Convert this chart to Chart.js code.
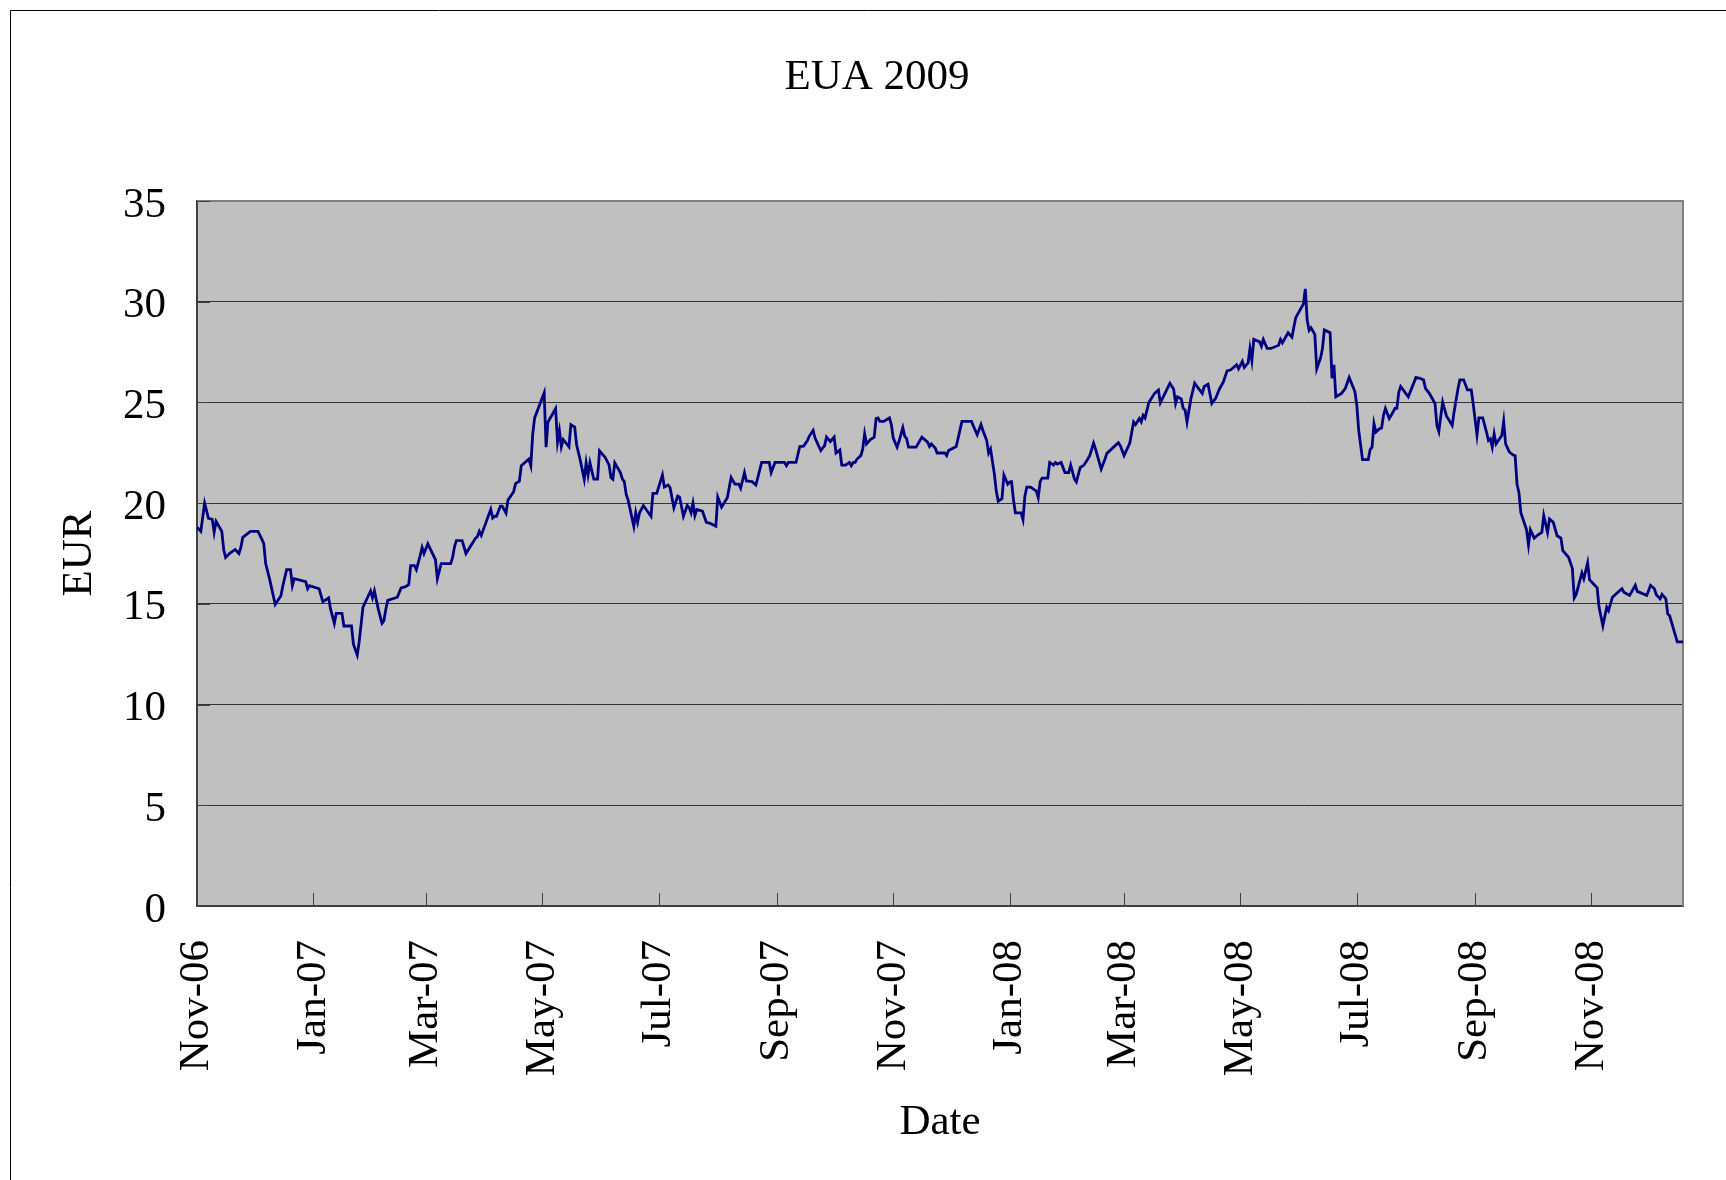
<!DOCTYPE html>
<html>
<head>
<meta charset="utf-8">
<title>EUA 2009</title>
<script src="https://cdn.jsdelivr.net/npm/chart.js@4.4.1/dist/chart.umd.min.js"></script>
<style>
  html, body { margin: 0; padding: 0; background: #fff; }
  canvas { display: block; }
</style>
</head>
<body>
<canvas id="euaChart" width="1726" height="1180"></canvas>
<script>
// EUA Dec-2009 price. Days are counted from 1 Nov 2006.
const CHART_TITLE = 'EUA 2009';

const days2006 = [0, 2, 4, 6, 8, 9, 10, 13, 14, 15, 17, 20, 22, 23, 24, 28, 32, 35, 36, 38,
    41, 44, 45, 47, 49, 50, 51, 57, 58, 59];
const eur2006 = [18.8, 18.6, 20.0, 19.25, 19.2, 18.55, 19.1, 18.6, 17.7, 17.3, 17.5, 17.7, 17.5, 17.8, 18.3, 18.6, 18.6, 18.0, 17.0, 16.25,
    14.97, 15.4, 15.9, 16.7, 16.7, 15.9, 16.25, 16.1, 15.75, 15.9];

const days2007 = [64, 66, 69, 70, 72, 73, 76, 77, 81, 82,
    84, 85, 87, 91, 92, 93, 95, 97, 98, 99,
    100, 105, 107, 109, 111, 112, 114, 115, 117, 118,
    119, 121, 125, 126, 128, 133, 134, 135, 136, 139,
    141, 146, 147, 148, 149, 154, 155, 156, 157, 159,
    160, 162, 163, 166, 167, 169, 170, 174, 175, 176,
    177, 182, 183, 184, 188, 189, 190, 191, 192, 195,
    196, 198, 199, 201, 203, 204, 205, 206, 208, 210,
    211, 214, 216, 217, 218, 219, 222, 223, 224, 225,
    226, 229, 230, 231, 232, 234, 238, 239, 241, 244,
    245, 247, 248, 250, 252, 253, 255, 257, 258, 259,
    260, 261, 262, 265, 267, 269, 272, 273, 275, 278,
    280, 282, 284, 285, 287, 288, 291, 293, 296, 300,
    301, 303, 308, 309, 310, 314, 316, 318, 320, 321,
    323, 324, 327, 329, 330, 332, 334, 335, 337, 338,
    340, 342, 343, 344, 345, 346, 348, 349, 350, 351,
    353, 355, 356, 357, 358, 360, 363, 364, 365, 367,
    368, 370, 371, 372, 373, 377, 380, 383, 384, 385,
    387, 388, 392, 393, 394, 398, 401, 406, 407, 409,
    411, 412, 414, 415, 416, 418, 419, 420, 422, 423,
    425];
const eur2007 = [15.75, 15.1, 15.3, 14.75, 14.03, 14.53, 14.53, 13.9, 13.9, 13.0,
    12.46, 13.1, 14.83, 15.64, 15.3, 15.64, 14.75, 14.03, 14.16, 14.75,
    15.17, 15.33, 15.79, 15.84, 15.95, 16.9, 16.9, 16.7, 17.4, 17.8,
    17.5, 17.98, 17.2, 16.25, 17.0, 17.0, 17.3, 17.84, 18.14, 18.14,
    17.5, 18.26, 18.34, 18.6, 18.4, 19.7, 19.26, 19.35, 19.35, 19.85,
    19.85, 19.5, 20.15, 20.57, 20.97, 21.09, 21.86, 22.19, 21.86, 23.44,
    24.23, 25.48, 22.78, 24.03, 24.7, 23.03, 23.6, 22.8, 23.16, 22.8,
    23.9, 23.78, 22.9, 22.1, 21.19, 22.0, 21.4, 22.0, 21.19, 21.19,
    22.6, 22.27, 21.9, 21.27, 21.19, 22.0, 21.5, 21.19, 21.07, 20.43,
    20.15, 18.85, 19.52, 19.05, 19.52, 19.88, 19.35, 20.48, 20.48, 21.4,
    20.8, 20.9, 20.77, 19.77, 20.35, 20.3, 19.35, 19.88, 19.77, 19.52,
    20.0, 19.38, 19.68, 19.6, 19.05, 19.0, 18.85, 20.3, 19.8, 20.27,
    21.27, 20.94, 20.94, 20.74, 21.52, 21.1, 21.07, 20.9, 22.02, 22.02,
    21.52, 22.02, 22.02, 21.86, 22.02, 22.02, 22.81, 22.83, 23.11, 23.33,
    23.61, 23.23, 22.61, 22.86, 23.28, 23.06, 23.28, 22.49, 22.64, 21.89,
    21.89, 22.02, 21.86, 22.02, 22.02, 22.19, 22.36, 22.69, 23.44, 22.94,
    23.16, 23.28, 24.2, 24.23, 24.06, 24.06, 24.23, 23.9, 23.23, 22.78,
    23.06, 23.75, 23.33, 23.2, 22.78, 22.78, 23.28, 23.03, 22.81, 22.94,
    22.74, 22.49, 22.49, 22.36, 22.61, 22.81, 24.06, 24.06, 23.83, 23.39,
    23.9, 23.61, 23.11, 22.49, 22.69, 21.44, 20.6, 20.1, 20.22, 21.39,
    20.94];

const days2008 = [426, 427, 428, 429, 432, 433, 434, 435, 437, 440,
    441, 442, 443, 446, 447, 449, 450, 451, 453, 455,
    457, 458, 460, 461, 463, 465, 467, 468, 470, 471,
    474, 476, 477, 483, 484, 486, 489, 491, 492, 494,
    495, 496, 497, 499, 502, 504, 505, 510, 512, 513,
    514, 516, 517, 518, 519, 521, 523, 525, 527, 528,
    530, 532, 534, 536, 538, 540, 542, 545, 546, 548,
    549, 551, 552, 553, 554, 557, 558, 559, 561, 563,
    567, 568, 569, 572, 574, 575, 576, 579, 580, 581,
    582, 583, 584, 586, 587, 589, 590, 591, 594, 595,
    596, 597, 600, 602, 604, 607, 608, 609, 611, 614,
    615, 616, 617, 618, 620, 621, 622, 623, 625, 626,
    628, 629, 630, 631, 635, 639, 641, 643, 644, 646,
    649, 650, 651, 653, 655, 658, 659, 661, 662, 664,
    666, 668, 669, 671, 672, 674, 676, 677, 678, 679,
    680, 681, 684, 685, 686, 688, 690, 691, 692, 693,
    694, 697, 698, 699, 701, 703, 705, 706, 708, 709,
    711, 713, 715, 716, 719, 721, 722, 723, 726, 727,
    729, 730, 732, 734, 735, 737, 739, 740, 742, 744,
    747, 748, 751, 754, 755, 760, 762, 764, 765, 767,
    768, 770, 771, 772, 776, 779];
const eur2008 = [21.05, 21.07, 20.18, 19.52, 19.52, 19.18, 20.35, 20.8, 20.8, 20.6,
    20.27, 21.07, 21.24, 21.24, 22.02, 21.89, 22.02, 21.94, 22.02, 21.52,
    21.52, 21.89, 21.19, 21.05, 21.77, 21.89, 22.19, 22.36, 22.98, 22.69,
    21.69, 22.19, 22.47, 23.0, 22.86, 22.36, 22.98, 24.03, 23.9, 24.2,
    24.03, 24.36, 24.23, 25.0, 25.45, 25.62, 24.98, 25.95, 25.65, 24.95,
    25.28, 25.17, 24.7, 24.62, 24.03, 25.17, 25.95, 25.7, 25.45, 25.79,
    25.9, 24.95, 25.2, 25.67, 26.0, 26.57, 26.62, 26.87, 26.67, 27.04,
    26.74, 26.96, 27.68, 27.07, 28.13, 28.01, 27.79, 28.13, 27.68, 27.68,
    27.84, 28.13, 27.96, 28.46, 28.24, 28.75, 29.21, 29.72, 29.88, 30.64,
    29.08, 28.58, 28.71, 28.38, 26.67, 27.21, 27.68, 28.6, 28.46, 26.2,
    26.87, 25.28, 25.45, 25.7, 26.24, 25.54, 24.87, 23.61, 22.16, 22.16,
    22.66, 22.78, 23.95, 23.53, 23.7, 23.73, 24.36, 24.7, 24.2, 24.36,
    24.7, 24.7, 25.5, 25.79, 25.28, 26.24, 26.2, 26.12, 25.7, 25.45,
    24.95, 23.86, 23.56, 25.02, 24.33, 23.86, 24.53, 25.65, 26.12, 26.12,
    25.62, 25.62, 24.95, 23.39, 24.23, 24.23, 23.53, 23.11, 23.19, 22.78,
    23.44, 22.94, 23.36, 24.06, 22.94, 22.53, 22.39, 22.36, 20.94, 20.52,
    19.52, 18.68, 17.93, 18.68, 18.26, 18.43, 18.55, 19.38, 18.55, 19.21,
    19.05, 18.38, 18.26, 17.64, 17.31, 16.76, 15.3, 15.47, 16.54, 16.25,
    17.04, 16.2, 16.0, 15.8, 14.83, 13.91, 14.83, 14.66, 15.33, 15.5,
    15.75, 15.58, 15.42, 15.92, 15.62, 15.42, 15.92, 15.75, 15.45, 15.25,
    15.47, 15.25, 14.5, 14.41, 13.11, 13.11];

// month ticks every two months (day offsets from 1 Nov 2006)
const monthTickDays = [0, 61, 120, 181, 242, 304, 365, 426, 486, 547, 608, 670, 731];
const monthTickLabels = ['Nov-06', 'Jan-07', 'Mar-07', 'May-07', 'Jul-07', 'Sep-07', 'Nov-07',
    'Jan-08', 'Mar-08', 'May-08', 'Jul-08', 'Sep-08', 'Nov-08'];
const lastDay = 779;

const SERIF = '"Liberation Serif", "Times New Roman", serif';

const allDays = days2006.concat(days2007, days2008);
const allEur = eur2006.concat(eur2007, eur2008);
const points = allDays.map((d, i) => ({ x: d, y: allEur[i] }));

// white page, outer chart frame (cut off at right and bottom) and grey plot area
const excelBackground = {
    id: 'excelBackground',
    beforeDraw(chart) {
        const { ctx, chartArea: a, width, height } = chart;
        ctx.save();
        ctx.fillStyle = '#ffffff';
        ctx.fillRect(0, 0, width, height);
        ctx.strokeStyle = '#000000';
        ctx.lineWidth = 1;
        ctx.beginPath();
        ctx.moveTo(10.5, height);
        ctx.lineTo(10.5, 10.5);
        ctx.lineTo(width, 10.5);
        ctx.stroke();
        ctx.fillStyle = '#c0c0c0';
        ctx.fillRect(a.left, a.top, a.right - a.left, a.bottom - a.top);
        ctx.restore();
    },
};

// grey top/right frame and the inward tick marks
const insideTicks = {
    id: 'insideTicks',
    beforeDatasetsDraw(chart) {
        const { ctx, chartArea: a, scales } = chart;
        ctx.save();
        ctx.strokeStyle = '#808080';
        ctx.lineWidth = 2;
        ctx.beginPath();
        ctx.moveTo(a.left, a.top);
        ctx.lineTo(a.right, a.top);
        ctx.lineTo(a.right, a.bottom);
        ctx.stroke();

        ctx.strokeStyle = '#404040';
        ctx.lineWidth = 1;
        ctx.beginPath();
        scales.x.ticks.forEach((t) => {
            const px = Math.round(scales.x.getPixelForValue(t.value)) + 0.5;
            ctx.moveTo(px, a.bottom);
            ctx.lineTo(px, a.bottom - 13);
        });
        scales.y.ticks.forEach((t) => {
            const py = Math.round(scales.y.getPixelForValue(t.value)) + 0.5;
            ctx.moveTo(a.left, py);
            ctx.lineTo(a.left + 13, py);
        });
        ctx.stroke();
        ctx.restore();
    },
};

const chartTitle = {
    id: 'chartTitle',
    afterDraw(chart) {
        const ctx = chart.ctx;
        ctx.save();
        ctx.font = '43px ' + SERIF;
        ctx.fillStyle = '#000000';
        ctx.textAlign = 'center';
        ctx.textBaseline = 'alphabetic';
        ctx.fillText(CHART_TITLE, 877, 89);
        ctx.restore();
    },
};

new Chart(document.getElementById('euaChart'), {
    type: 'line',
    data: {
        datasets: [{
            label: 'EUA 2009',
            data: points,
            borderColor: '#000080',
            backgroundColor: 'transparent',
            borderWidth: 2.8,
            pointRadius: 0,
            tension: 0,
            fill: false,
        }],
    },
    options: {
        responsive: false,
        animation: false,
        events: [],
        layout: { padding: { top: 201, right: 43, left: 0, bottom: 0 } },
        plugins: {
            legend: { display: false },
            tooltip: { enabled: false },
            title: { display: false },
        },
        scales: {
            x: {
                type: 'linear',
                min: 0,
                max: lastDay,
                afterFit(scale) { scale.height = 274; },
                afterBuildTicks(scale) {
                    scale.ticks = monthTickDays.map((v) => ({ value: v }));
                },
                grid: { display: false, drawTicks: false },
                border: { display: true, color: '#404040', width: 2 },
                ticks: {
                    autoSkip: false,
                    minRotation: 90,
                    maxRotation: 90,
                    padding: 34,
                    color: '#000000',
                    font: { family: SERIF, size: 43 },
                    callback: (value, index) => monthTickLabels[index],
                },
                title: {
                    display: true,
                    text: 'Date',
                    color: '#000000',
                    font: { family: SERIF, size: 43, lineHeight: 1.2 },
                    padding: { top: 0, bottom: 31 },
                },
            },
            y: {
                min: 0,
                max: 35,
                afterFit(scale) { scale.width = 197; },
                grid: { color: '#333333', lineWidth: 1, drawTicks: false },
                border: { display: true, color: '#404040', width: 2 },
                ticks: {
                    stepSize: 5,
                    padding: 31,
                    color: '#000000',
                    // small line height + empty first line nudges the digits ~4px down, as in Excel
                    font: { family: SERIF, size: 43, lineHeight: 0.2 },
                    callback: (value) => ['', String(value)],
                },
                title: {
                    display: true,
                    text: 'EUR',
                    color: '#000000',
                    font: { family: SERIF, size: 43, lineHeight: 1.2 },
                    padding: { top: 54, bottom: 0 },
                },
            },
        },
    },
    plugins: [excelBackground, insideTicks, chartTitle],
});
</script>
</body>
</html>
